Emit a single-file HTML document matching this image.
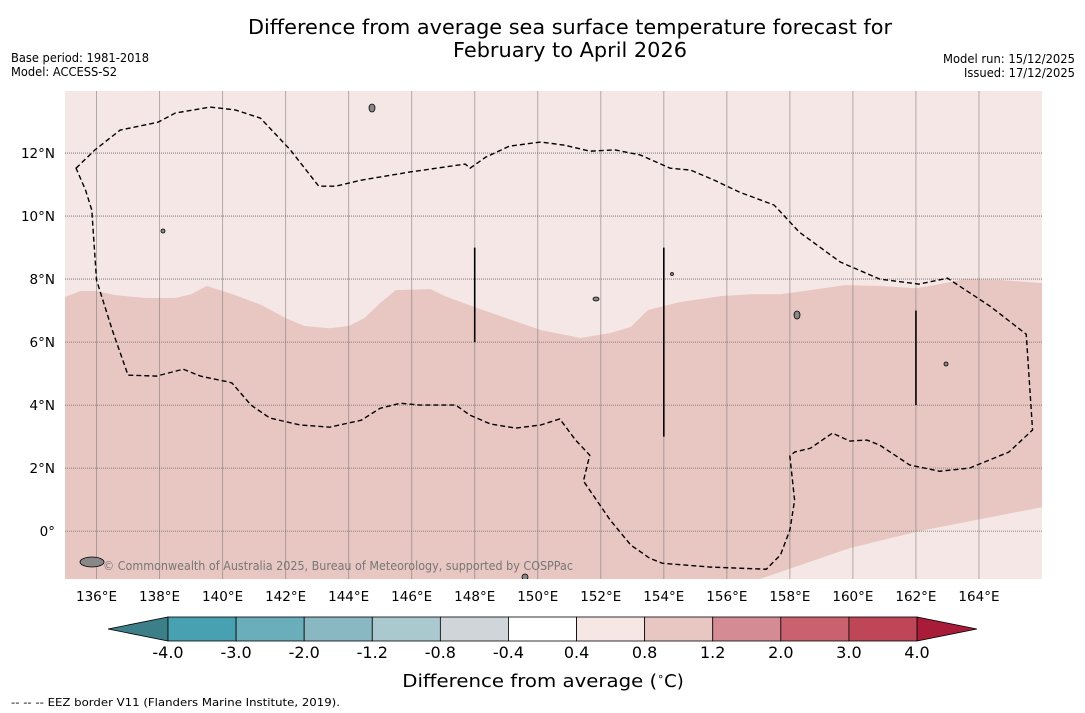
<!DOCTYPE html>
<html><head><meta charset="utf-8"><style>
html,body{margin:0;padding:0;background:#fff;}
svg{display:block;font-family:"DejaVu Sans","Liberation Sans",sans-serif;}
</style></head><body>
<svg id="chart" width="1085" height="713" viewBox="0 0 1085 713">
<text x="570" y="34" text-anchor="middle" font-size="20" textLength="644" lengthAdjust="spacingAndGlyphs">Difference from average sea surface temperature forecast for</text>
<text x="570" y="57" text-anchor="middle" font-size="20" textLength="234" lengthAdjust="spacingAndGlyphs">February to April 2026</text>
<text x="11" y="62" font-size="12" textLength="138" lengthAdjust="spacingAndGlyphs">Base period: 1981-2018</text>
<text x="11" y="76" font-size="12" textLength="106" lengthAdjust="spacingAndGlyphs">Model: ACCESS-S2</text>
<text x="1075" y="63" font-size="12" text-anchor="end" textLength="132" lengthAdjust="spacingAndGlyphs">Model run: 15/12/2025</text>
<text x="1075" y="77" font-size="12" text-anchor="end" textLength="111" lengthAdjust="spacingAndGlyphs">Issued: 17/12/2025</text>
<g id="map"></g>
<g id="axes"></g>
<g id="cbar"></g>
<text x="543" y="687" text-anchor="middle" font-size="18"><tspan textLength="255" lengthAdjust="spacingAndGlyphs">Difference from average (</tspan><tspan font-size="11" dy="-7">∘</tspan><tspan dy="7">C)</tspan></text>
<text x="11" y="706" font-size="11" textLength="329" lengthAdjust="spacingAndGlyphs">--  --  -- EEZ border V11 (Flanders Marine Institute, 2019).</text>
</svg>
<script>
const lonTicks=[136,138,140,142,144,146,148,150,152,154,156,158,160,162,164];
const latTicks=[0,2,4,6,8,10,12];
const lonRange=[135,166];
const latRange=[-1.52,13.97];
const boundaryLon=[135.0,135.5,136.0,136.6,137.55,138.5,139.0,139.5,140.4,141.25,142.0,142.6,143.4,144.0,144.5,145.0,145.5,146.6,147.05,148.0,149.0,150.1,151.35,152.3,152.95,153.5,154.5,155.8,156.75,157.7,158.65,159.75,160.9,162.0,162.75,163.55,164.65,166.0];
const boundaryLat=[7.43,7.62,7.62,7.49,7.40,7.40,7.52,7.78,7.49,7.17,6.76,6.51,6.44,6.51,6.76,7.24,7.65,7.68,7.46,7.11,6.76,6.38,6.13,6.29,6.48,7.02,7.27,7.46,7.52,7.52,7.65,7.81,7.78,7.71,7.84,8.0,7.97,7.87];
const lowLightLon=[157.05,159.9,162.1,166.0];
const lowLightLat=[-1.52,-0.54,0,0.76];
const dashLon=[135.35,135.95,136.75,137.95,138.5,139.6,140.4,141.2,142.15,143.05,143.6,144.4,145.95,147.7,147.85,148.35,149.1,150.1,150.85,151.65,152.45,153.25,154.2,154.85,155.6,156.4,157.5,158.3,159.6,160.85,162.1,163.0,164.35,165.5,165.7,164.95,163.7,162.75,161.8,160.85,160.45,159.9,159.35,158.65,158.15,158.0,158.15,158.0,157.7,157.25,155.45,153.95,153.55,152.95,152.3,151.45,151.65,151.2,150.7,150.1,149.3,148.5,147.85,147.4,146.25,145.65,145.0,144.4,143.4,142.45,141.5,140.9,140.3,140.2,139.3,138.75,137.9,137.0,136.5,136.0,135.85,135.65];
const dashLat=[11.52,12.1,12.73,12.98,13.27,13.46,13.37,13.11,12.1,10.95,10.95,11.14,11.4,11.65,11.52,11.87,12.22,12.35,12.25,12.06,12.1,11.94,11.52,11.46,11.14,10.76,10.35,9.49,8.54,8.0,7.84,8.03,7.14,6.25,3.21,2.51,2.0,1.9,2.1,2.73,2.89,2.86,3.11,2.63,2.51,2.38,0.98,0.03,-0.76,-1.21,-1.14,-1.02,-0.86,-0.44,0.35,1.59,2.41,2.89,3.56,3.37,3.27,3.40,3.68,4.0,4.0,4.06,3.9,3.52,3.30,3.37,3.59,4.0,4.70,4.73,4.92,5.14,4.92,4.95,6.38,7.97,10.19,10.83];
const segLon=[148,154,162];
const segLatTop=[9,9,7];
const segLatBot=[6,3,4];
const cbarLabels=["-4.0","-3.0","-2.0","-1.2","-0.8","-0.4","0.4","0.8","1.2","2.0","3.0","4.0"];
const cbarColors=["#48a1b1","#6aaebb","#89b8c3","#a9c9ce","#cfd5d8","#ffffff","#f6e7e5","#e8c6c2","#d48b94","#c9626e","#be4656"];
const NS="http://www.w3.org/2000/svg";
const L=65,R=1042,T=91,B=579;
const xs=lon=>L+(lon-lonRange[0])/(lonRange[1]-lonRange[0])*(R-L);
const ys=lat=>B-(lat-latRange[0])/(latRange[1]-latRange[0])*(B-T);
function mk(tag,attrs,parent){const e=document.createElementNS(NS,tag);for(const k in attrs)e.setAttribute(k,attrs[k]);parent.appendChild(e);return e;}
const map=document.getElementById('map');
const axes=document.getElementById('axes');
const cbar=document.getElementById('cbar');
const cp=mk('clipPath',{id:'mc'},map);mk('rect',{x:L,y:T,width:R-L,height:B-T},cp);
const g=mk('g',{'clip-path':'url(#mc)'},map);
let r=mk('rect',{x:L,y:T,width:R-L,height:B-T,fill:'#f5e7e5'},g);


let d='M'+xs(lonRange[0])+','+ys(latRange[0]);
boundaryLon.forEach((v,i)=>{d+=' L'+xs(v)+','+ys(boundaryLat[i]);});
d+=' L'+xs(lonRange[1])+','+ys(latRange[0])+' Z';
let p=mk('path',{d:d,fill:'#e8c6c2'},g);


d='M'+xs(lowLightLon[0])+','+ys(lowLightLat[0]);
lowLightLon.forEach((v,i)=>{d+=' L'+xs(v)+','+ys(lowLightLat[i]);});
d+=' L'+xs(lonRange[1])+','+ys(latRange[0])+' Z';
p=mk('path',{d:d,fill:'#f5e7e5'},g);


lonTicks.forEach(v=>{const l=mk('line',{x1:xs(v),x2:xs(v),y1:T,y2:B,stroke:'#777',"stroke-opacity":0.55,"stroke-width":1},g);

});
latTicks.forEach(v=>{const l=mk('line',{x1:L,x2:R,y1:ys(v),y2:ys(v),stroke:'#666',"stroke-width":0.8,"stroke-dasharray":"1,1"},g);

});
d='';dashLon.forEach((v,i)=>{d+=(i?' L':'M')+xs(v)+','+ys(dashLat[i]);});d+=' Z';
p=mk('path',{d:d,fill:'none',stroke:'#000',"stroke-width":1.4,"stroke-dasharray":"5,3"},g);


segLon.forEach((v,i)=>{const l=mk('line',{x1:xs(v),x2:xs(v),y1:ys(segLatTop[i]),y2:ys(segLatBot[i]),stroke:'#000',"stroke-width":1.6},g);

});
[[372,108,3,4],[163,231,2,2],[596,299,3,2],[797,315,3,4],[946,364,2,2],[672,274,1.5,1.5],[92,562,12,5],[525,577,3,3]].forEach(a=>{const e=mk('ellipse',{cx:a[0],cy:a[1],rx:a[2],ry:a[3],fill:'#888',stroke:'#000',"stroke-width":0.8},g);

});
let t=mk('text',{x:103,y:570,"font-size":12,fill:'#777',textLength:470,lengthAdjust:'spacingAndGlyphs'},g);t.textContent='© Commonwealth of Australia 2025, Bureau of Meteorology, supported by COSPPac';


lonTicks.forEach(v=>{const tt=mk('text',{x:xs(v),y:601,"text-anchor":"middle","font-size":13.5},axes);tt.textContent=v+'°E';

});
latTicks.forEach(v=>{const tt=mk('text',{x:55,y:ys(v)+5,"text-anchor":"end","font-size":13.5},axes);tt.textContent=v===0?'0°':v+'°N';

});
const cx0=168,cx1=917,cy0=617,cy1=641,n=cbarColors.length,w=(cx1-cx0)/n;
let tri=mk('polygon',{points:`108,${(cy0+cy1)/2} ${cx0},${cy0} ${cx0},${cy1}`,fill:'#3d7f89',stroke:'#000',"stroke-width":0.8},cbar);


tri=mk('polygon',{points:`977,${(cy0+cy1)/2} ${cx1},${cy0} ${cx1},${cy1}`,fill:'#a81c3a',stroke:'#000',"stroke-width":0.8},cbar);


cbarColors.forEach((c,i)=>{const rr=mk('rect',{x:cx0+i*w,y:cy0,width:w,height:cy1-cy0,fill:c,stroke:'#000',"stroke-width":0.8},cbar);

});
cbarLabels.forEach((s,i)=>{const tt=mk('text',{x:cx0+i*w,y:658,"text-anchor":"middle","font-size":16},cbar);tt.textContent=s;

});
</script>
</body></html>
